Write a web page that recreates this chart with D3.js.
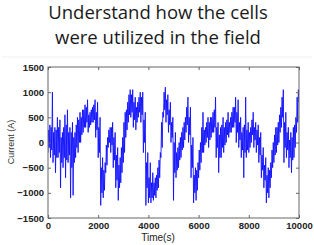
<!DOCTYPE html>
<html><head><meta charset="utf-8">
<script src="https://cdn.jsdelivr.net/npm/d3@7"></script>
<style>html,body{margin:0;padding:0;background:#fff;}svg{display:block;}</style>
</head><body>
<script>
const titleLines = ["Understand how the cells", "were utilized in the field"];
const xTicks = [0, 2000, 4000, 6000, 8000, 10000];
const yTicks = [-1500, -1000, -500, 0, 500, 1000, 1500];
const xLabel = "Time(s)";
const yLabel = "Current (A)";
const binStep = 100; // seconds per bin
// extreme low / high current (spikes) within each 100 s bin (A)
const binLow = [
  -200,-300,-400,-600,-300,-900,-500,-700,-400,-1100,
  -1050,-300,-200,0,200,300,200,350,400,100,
  -300,-1250,-1100,-600,-100,-200,-500,-900,-1150,-800,
  -400,100,400,500,300,250,500,400,-200,-1250,
  -1200,-1200,-1150,-1100,-900,-300,500,400,200,0,
  -1150,-700,-500,-300,-100,200,0,-700,-1200,-1150,
  -700,-400,-200,0,-100,100,200,-300,-600,-300,
  -200,0,100,200,300,0,-100,-300,-700,-300,
  -200,0,-100,-200,-400,-700,-900,-1200,-1100,-700,
  -400,-200,0,300,-400,-300,-500,-600,-300,200
];
const binHigh = [
  350,1000,300,500,450,200,550,650,300,400,
  200,500,600,650,750,850,600,700,850,800,
  500,-300,-400,100,300,400,200,-100,-300,100,
  600,800,1050,1050,900,800,1000,1000,600,-200,
  -400,-600,-700,-500,-200,600,1100,950,800,500,
  200,-100,100,300,500,900,700,100,-500,-400,
  0,600,300,500,500,600,900,400,300,500,
  400,600,500,700,900,850,500,300,900,400,
  300,600,400,350,200,-100,-300,-500,-400,0,
  300,400,700,1050,600,300,200,300,500,1050
];
// dense core band (where most samples lie) within each bin (A)
const coreLow = [
  -100,-150,-250,-300,-200,-400,-300,-350,-250,-500,
  -400,-100,0,150,300,400,300,400,450,250,
  -200,-1000,-950,-450,0,-50,-350,-750,-900,-600,
  -200,250,550,600,450,400,600,550,0,-900,
  -1100,-1100,-1050,-950,-700,-100,650,550,350,100,
  -600,-550,-350,-150,50,350,150,-500,-1000,-950,
  -550,-200,-50,100,50,200,300,-100,-300,-100,
  -50,150,200,300,400,200,50,-150,-200,-150,
  -100,150,50,-50,-250,-550,-750,-1000,-900,-500,
  -250,-50,200,500,-100,-150,-300,-350,-100,400
];
const coreHigh = [
  250,300,200,250,300,100,300,350,200,200,
  100,350,450,500,650,700,550,650,750,600,
  300,-500,-550,-50,250,300,100,-250,-450,-100,
  400,650,950,950,800,700,900,900,450,-400,
  -700,-800,-800,-650,-350,400,1000,850,650,400,
  0,-200,0,200,400,700,500,-50,-650,-550,
  -150,300,250,400,400,500,650,300,150,350,
  300,450,400,600,700,600,400,200,350,250,
  200,450,300,250,100,-250,-450,-650,-550,-150,
  150,300,550,900,400,200,50,100,350,900
];
const lastValue = 800;

const W = 314, H = 245;
const m = {left: 48, right: 299, top: 67, bottom: 218};
const svg = d3.select("body").append("svg").attr("width", W).attr("height", H);

svg.append("line").attr("x1", 2).attr("x2", 312).attr("y1", 57).attr("y2", 57)
  .attr("stroke", "#f0f0f0").attr("stroke-width", 1);

titleLines.forEach((t, i) => {
  svg.append("text").attr("x", 158).attr("y", 18.5 + i * 25.7)
    .attr("text-anchor", "middle")
    .attr("font-family", "'Open Sans', sans-serif").attr("font-size", 18.5)
    .attr("fill", "#1a1a1a").text(t);
});

const x = d3.scaleLinear().domain([0, 10000]).range([m.left, m.right]);
const y = d3.scaleLinear().domain([-1500, 1500]).range([m.bottom, m.top]);

// sample order inside each bin: spike low, core high, core low, spike high
const pts = [];
binLow.forEach((lo, i) => {
  const t0 = i * binStep;
  pts.push([t0, lo]);
  pts.push([t0 + binStep * 0.25, coreHigh[i]]);
  pts.push([t0 + binStep * 0.5, coreLow[i]]);
  pts.push([t0 + binStep * 0.75, binHigh[i]]);
});
pts.push([10000, lastValue]);

svg.append("defs").append("clipPath").attr("id", "clip")
  .append("rect").attr("x", m.left).attr("y", m.top)
  .attr("width", m.right - m.left).attr("height", m.bottom - m.top);

svg.append("g").attr("clip-path", "url(#clip)")
  .append("path").datum(pts)
  .attr("fill", "none").attr("stroke", "#0a0aff").attr("stroke-width", 0.85)
  .attr("d", d3.line().x(d => x(d[0])).y(d => y(d[1])));

svg.append("rect").attr("x", m.left).attr("y", m.top)
  .attr("width", m.right - m.left).attr("height", m.bottom - m.top)
  .attr("fill", "none").attr("stroke", "#666").attr("stroke-width", 1);

const fontAx = "'Liberation Sans', Arial, sans-serif";
const gx = svg.append("g").attr("transform", `translate(0,${m.bottom})`)
  .call(d3.axisBottom(x).tickValues(xTicks).tickSize(-3).tickPadding(4).tickFormat(d3.format("d")));
const gxt = svg.append("g").attr("transform", `translate(0,${m.top})`)
  .call(d3.axisTop(x).tickValues(xTicks).tickSize(-3).tickFormat(""));
const gy = svg.append("g").attr("transform", `translate(${m.left},0)`)
  .call(d3.axisLeft(y).tickValues(yTicks).tickSize(-3).tickPadding(4).tickFormat(d3.format("d")));
const gyr = svg.append("g").attr("transform", `translate(${m.right},0)`)
  .call(d3.axisRight(y).tickValues(yTicks).tickSize(-3).tickFormat(""));
[gx, gxt, gy, gyr].forEach(g => {
  g.select(".domain").remove();
  g.selectAll(".tick line").attr("stroke", "#666");
  g.selectAll("text").attr("font-family", fontAx).attr("font-size", 9.5)
    .attr("fill", "#222").attr("font-weight", "bold");
});

svg.append("text").attr("x", 158).attr("y", 241)
  .attr("text-anchor", "middle").attr("font-family", fontAx).attr("font-size", 10)
  .attr("fill", "#222").text(xLabel);
svg.append("text").attr("transform", `translate(14,142) rotate(-90)`)
  .attr("text-anchor", "middle").attr("font-family", fontAx).attr("font-size", 9)
  .attr("fill", "#333").text(yLabel);
</script>
</body></html>
